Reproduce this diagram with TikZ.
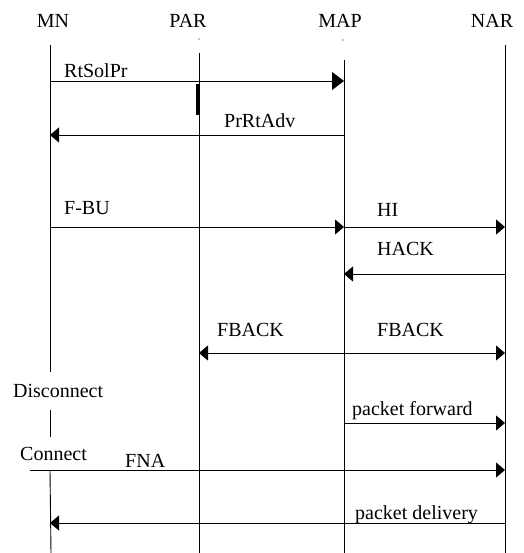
\documentclass[tikz,border=0pt]{standalone}
\usepackage{fontspec}
\setmainfont{Liberation Serif}
\usetikzlibrary{arrows.meta}
\begin{document}
\begin{tikzpicture}[x=1pt, y=-1pt, font=\fontsize{20}{24}\selectfont,
	msg/.style={-{Triangle[length=9pt, width=15pt]}, line width=0.9pt},
	life/.style={line width=0.9pt},
	lbl/.style={anchor=base west, inner sep=0pt}]
	\useasboundingbox (0,0) rectangle (523,553);
	% header nodes
	\node (MN) at (53,21) {MN};
	\node (PAR) at (188,21) {PAR};
	\node (MAP) at (340,21) {MAP};
	\node (NAR) at (492,21) {NAR};
	% message end points on the lifelines
	\foreach \y [count=\i] in {81,135,227,274,353,423,470,523} {
		\coordinate (mn\i) at (50,\y);
		\coordinate (par\i) at (199,\y);
		\coordinate (map\i) at (344,\y);
		\coordinate (nar\i) at (505,\y);
	}
	\coordinate (mnA) at (50,45);
	\coordinate (mnB) at (50,372);
	\coordinate (mnC) at (50,410);
	\coordinate (mnD) at (50,437);
	\coordinate (mnE) at (51,553);
	\coordinate (parA) at (199,53);
	\coordinate (parB) at (199,553);
	\coordinate (mapA) at (344,60);
	\coordinate (mapB) at (344,553);
	\coordinate (narA) at (505,45);
	\coordinate (narB) at (505,553);
	\coordinate (fna) at (30,470);
	% lifelines
	\draw[life] (mnA) -- (mnB);
	\draw[life] (mnC) -- (mnD);
	\draw[life] (mn7) -- (mnE);
	\draw[life] (parA) -- (parB);
	\draw[life] (mapA) -- (mapB);
	\draw[life] (narA) -- (narB);
	\fill (199,39) circle (0.7pt);
	\fill (343,40) circle (0.7pt);
	\draw[line width=3pt] (197.5,84) -- (197.5,115);
	% messages
	\draw[-{Triangle[length=12pt, width=18pt]}, line width=0.9pt] (mn1) -- (map1);
	\draw[msg] (map2) -- (mn2);
	\draw[msg] (mn3) -- (map3);
	\draw[msg] (map3) -- (nar3);
	\draw[msg] (nar4) -- (map4);
	\draw[msg] (map5) -- (par5);
	\draw[msg] (map5) -- (nar5);
	\draw[msg] (map6) -- (nar6);
	\draw[msg] (fna) -- (nar7);
	\draw[msg] (nar8) -- (mn8);
	% labels
	\node[lbl] (l1) at (64,78) {RtSolPr};
	\node[lbl] (l2) at (224,128) {PrRtAdv};
	\node[lbl] (l3) at (64,214) {F-BU};
	\node[lbl] (l4) at (377,216) {HI};
	\node[lbl] (l5) at (377,255) {HACK};
	\node[lbl] (l6) at (217,336) {FBACK};
	\node[lbl] (l7) at (377,336) {FBACK};
	\node[lbl] (l8) at (13,397) {Disconnect};
	\node[lbl] (l9) at (352,415) {packet forward};
	\node[lbl] (l10) at (20,460) {Connect};
	\node[lbl] (l11) at (125,467) {FNA};
	\node[lbl] (l12) at (355,519) {packet delivery};
\end{tikzpicture}
\end{document}
